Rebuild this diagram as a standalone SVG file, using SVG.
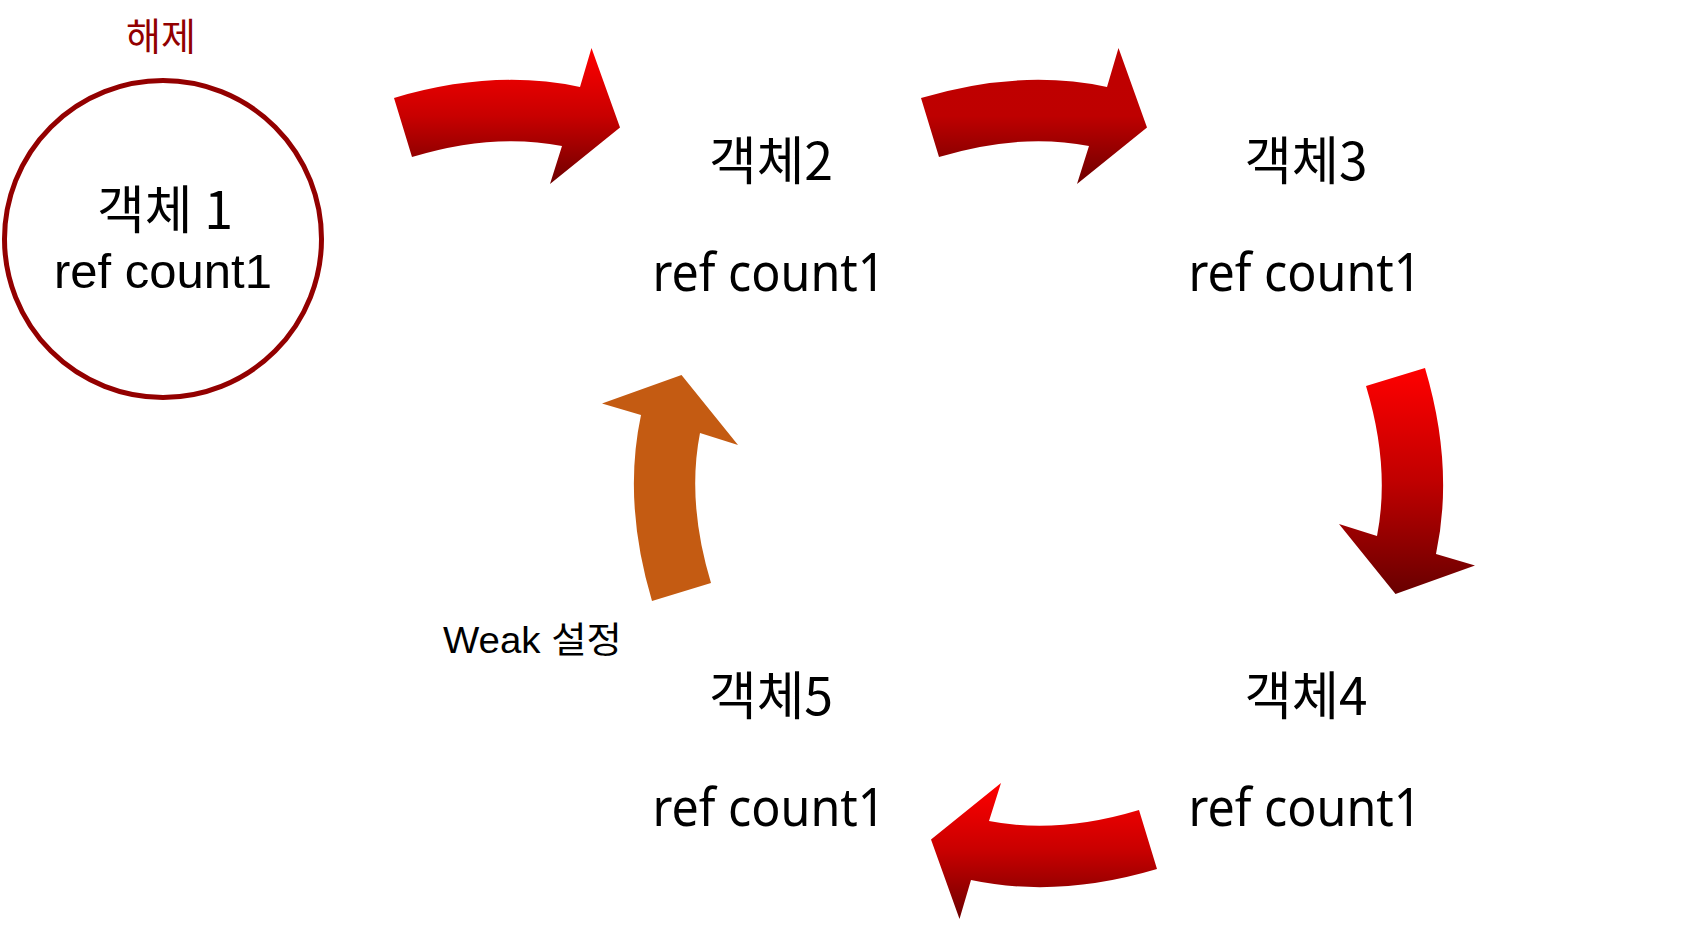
<svg xmlns="http://www.w3.org/2000/svg" xmlns:xlink="http://www.w3.org/1999/xlink" width="1705" height="928" viewBox="0 0 1705 928">
<style>
.kr{font-family:"Noto Sans CJK KR","Noto Sans",sans-serif;fill:#000}
.lat{font-family:"Liberation Sans",Arial,sans-serif;fill:#000}
.seg{font-family:"Noto Sans","Noto Sans CJK KR",sans-serif;fill:#000}
</style>
<defs>
<path id="arr" d="M394,98 Q493,68.5 580,87 L591.5,48 L620,127.5 L550,184 L562,146 Q493,132.5 412,157 Z"/>
<linearGradient id="g1" x1="0" y1="0" x2="0" y2="1">
<stop offset="0" stop-color="#ff0000"/><stop offset="0.5" stop-color="#c80000"/><stop offset="1" stop-color="#6e0000"/>
</linearGradient>
<linearGradient id="g2" x1="0" y1="0" x2="0" y2="1">
<stop offset="0" stop-color="#c00000"/><stop offset="0.5" stop-color="#be0000"/><stop offset="1" stop-color="#6e0000"/>
</linearGradient>
<linearGradient id="g3" x1="0" y1="0" x2="1" y2="0">
<stop offset="0" stop-color="#ff0000"/><stop offset="0.5" stop-color="#c00000"/><stop offset="1" stop-color="#680000"/>
</linearGradient>
<linearGradient id="g4" x1="0" y1="1" x2="0" y2="0">
<stop offset="0" stop-color="#ff0000"/><stop offset="0.5" stop-color="#c80000"/><stop offset="1" stop-color="#6e0000"/>
</linearGradient>
</defs>
<rect width="1705" height="928" fill="#fff"/>

<g id="connectors">
<use id="arrow1-2" href="#arr" xlink:href="#arr" fill="url(#g1)"/>
<use id="arrow2-3" href="#arr" xlink:href="#arr" fill="url(#g2)" transform="translate(527 0)"/>
<use id="arrow3-4" href="#arr" xlink:href="#arr" fill="url(#g3)" transform="matrix(0 1 -1 0 1523 -26)"/>
<use id="arrow4-5" href="#arr" xlink:href="#arr" fill="url(#g4)" transform="matrix(-1 0 0 -1 1551 967)"/>
<use id="arrow5-2" href="#arr" xlink:href="#arr" fill="#c45b12" transform="matrix(0 -1 1 0 554 995)"/>
</g>

<g id="node1">
<text class="kr" x="161" y="50" font-size="38" text-anchor="middle" style="fill:#920000">해제</text>
<circle cx="163" cy="239" r="158.5" fill="none" stroke="#930000" stroke-width="5"/>
<text class="kr" x="165" y="229" font-size="52" text-anchor="middle" textLength="136" lengthAdjust="spacingAndGlyphs">객체 1</text>
<text class="lat" x="163" y="288" font-size="49" text-anchor="middle" textLength="218" lengthAdjust="spacingAndGlyphs">ref count1</text>
</g>

<g id="node2">
<text class="kr" x="771" y="180" font-size="52" text-anchor="middle" textLength="124" lengthAdjust="spacingAndGlyphs">객체2</text>
<text class="seg" x="769" y="291" font-size="52" text-anchor="middle" textLength="233" lengthAdjust="spacingAndGlyphs">ref count1</text>
</g>

<g id="node3">
<text class="kr" x="1306" y="180" font-size="52" text-anchor="middle" textLength="123" lengthAdjust="spacingAndGlyphs">객체3</text>
<text class="seg" x="1305" y="291" font-size="52" text-anchor="middle" textLength="233" lengthAdjust="spacingAndGlyphs">ref count1</text>
</g>

<g id="node4">
<text class="kr" x="1306" y="715" font-size="52" text-anchor="middle" textLength="123" lengthAdjust="spacingAndGlyphs">객체4</text>
<text class="seg" x="1305" y="826" font-size="52" text-anchor="middle" textLength="233" lengthAdjust="spacingAndGlyphs">ref count1</text>
</g>

<g id="node5">
<text class="kr" x="771" y="715" font-size="52" text-anchor="middle" textLength="124" lengthAdjust="spacingAndGlyphs">객체5</text>
<text class="seg" x="769" y="826" font-size="52" text-anchor="middle" textLength="233" lengthAdjust="spacingAndGlyphs">ref count1</text>
</g>

<g id="weak-label">
<text x="443" y="653" font-size="36" style="font-family:'Liberation Sans','Noto Sans CJK KR',sans-serif;fill:#000" textLength="179" lengthAdjust="spacingAndGlyphs">Weak 설정</text>
</g>
</svg>
